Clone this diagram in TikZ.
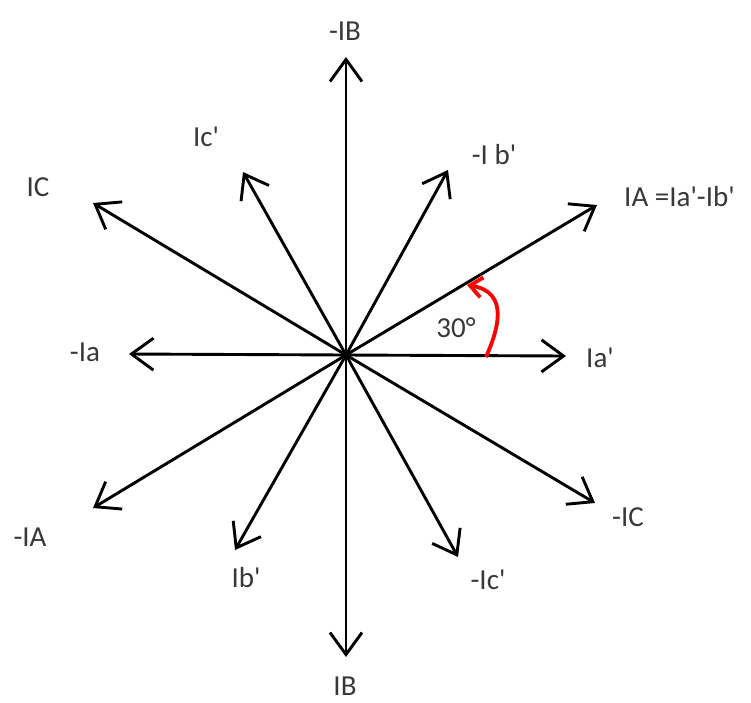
\documentclass[tikz,border=0pt]{standalone}
\usepackage{fontspec}
\newfontfamily\lab{Carlito}
\usetikzlibrary{arrows.meta}
\begin{document}
\begin{tikzpicture}[x=1pt,y=-1pt,
  vec/.style={line width=2.9pt,-{Straight Barb[length=22pt,width=32pt,line width=2.9pt]}},
  lbl/.style={font=\lab\fontsize{29}{32}\selectfont,text=black!78,inner sep=0pt},
  redarc/.style={red,line width=3.8pt,-{Straight Barb[length=12pt,width=20pt,line width=3.8pt]}}]
\useasboundingbox[fill=white] (0,0) rectangle (751,702);
\coordinate (O) at (346,355);
\coordinate (mIB) at (346,57);
\coordinate (IB) at (346,657);
\coordinate (Iap) at (566,356);
\coordinate (mIa) at (129,354);
\coordinate (IA) at (597,205);
\coordinate (IC) at (93,203);
\coordinate (mIA) at (93,508);
\coordinate (mIC) at (595,503);
\coordinate (Icp) at (243,172);
\coordinate (mIbp) at (448,170);
\coordinate (Ibp) at (235,550);
\coordinate (mIcp) at (458,557);
\foreach \t in {mIB,IB,Iap,mIa,IA,IC,mIA,mIC,Icp,mIbp,Ibp,mIcp}
  \draw[vec] (O) -- (\t);
\node[lbl] (tmIB) at (345,31) {-IB};
\node[lbl] (tIB) at (345,686) {IB};
\node[lbl,anchor=west] (tIA) at (624,197) {IA =Ia'-Ib'};
\node[lbl] (tIC) at (38,187) {IC};
\node[lbl] (tIcp) at (206,137) {Ic'};
\node[lbl] (tmIbp) at (494,155) {-I b'};
\node[lbl] (tmIa) at (85,352) {-Ia};
\node[lbl,anchor=west] (tIap) at (586,358) {Ia'};
\node[lbl] (tmIA) at (30,537) {-IA};
\node[lbl] (tmIC) at (628,517) {-IC};
\node[lbl] (tIbp) at (246,578) {Ib'};
\node[lbl] (tmIcp) at (488,580) {-Ic'};
\node[lbl] (t30) at (456,328) {30°};
\coordinate (r1) at (486,357);
\coordinate (r2) at (467,285);
\draw[redarc] (r1) .. controls (498,330) and (510,292) .. (r2);
\end{tikzpicture}
\end{document}
